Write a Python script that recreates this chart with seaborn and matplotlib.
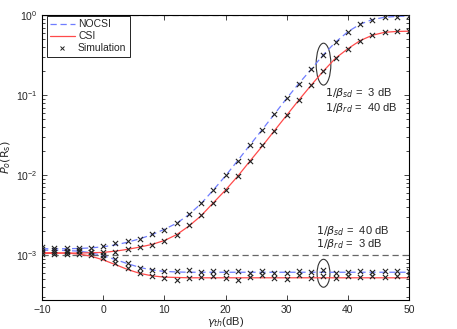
import numpy as np
import pandas as pd
import matplotlib
matplotlib.use("Agg")
import matplotlib.pyplot as plt
from matplotlib.lines import Line2D
from matplotlib.patches import Ellipse
import seaborn as sns

# gamma_th (dB) grid
gamma_db = list(range(-10, 51, 2))

# theory curves, 1/beta_sd = 3 dB, 1/beta_rd = 40 dB
nocsi_hi = [1.20e-3, 1.20e-3, 1.20e-3, 1.21e-3, 1.23e-3, 1.27e-3, 1.34e-3, 1.45e-3, 1.60e-3, 1.80e-3,
            2.10e-3, 2.50e-3, 3.20e-3, 4.40e-3, 6.50e-3, 9.80e-3, 0.0152, 0.0238, 0.037, 0.058,
            0.091, 0.14, 0.21, 0.32, 0.46, 0.62, 0.77, 0.88, 0.94, 0.965, 0.975]
csi_hi = [1.05e-3, 1.05e-3, 1.06e-3, 1.06e-3, 1.07e-3, 1.08e-3, 1.12e-3, 1.18e-3, 1.26e-3, 1.36e-3,
          1.52e-3, 1.80e-3, 2.30e-3, 3.10e-3, 4.50e-3, 6.50e-3, 9.7e-3, 0.015, 0.023, 0.036,
          0.056, 0.087, 0.133, 0.20, 0.29, 0.38, 0.48, 0.56, 0.61, 0.625, 0.63]

# theory curves, 1/beta_sd = 40 dB, 1/beta_rd = 3 dB
nocsi_lo = [1.15e-3, 1.15e-3, 1.14e-3, 1.12e-3, 1.07e-3, 9.8e-4, 8.8e-4, 7.8e-4, 7.0e-4, 6.5e-4,
            6.25e-4, 6.15e-4, 6.1e-4, 6.1e-4, 6.1e-4, 6.1e-4, 6.1e-4, 6.1e-4, 6.1e-4, 6.1e-4,
            6.1e-4, 6.1e-4, 6.1e-4, 6.1e-4, 6.1e-4, 6.1e-4, 6.1e-4, 6.1e-4, 6.1e-4, 6.1e-4, 6.1e-4]
csi_lo = [1.07e-3, 1.07e-3, 1.06e-3, 1.03e-3, 9.7e-4, 8.7e-4, 7.6e-4, 6.6e-4, 5.9e-4, 5.5e-4,
          5.3e-4, 5.25e-4, 5.2e-4, 5.2e-4, 5.2e-4, 5.2e-4, 5.2e-4, 5.2e-4, 5.2e-4, 5.2e-4,
          5.2e-4, 5.2e-4, 5.2e-4, 5.2e-4, 5.2e-4, 5.2e-4, 5.2e-4, 5.2e-4, 5.2e-4, 5.2e-4, 5.2e-4]

# simulation points
sim_nocsi_hi = [1.25e-3, 1.22e-3, 1.22e-3, 1.22e-3, 1.24e-3, 1.30e-3, 1.42e-3, 1.48e-3, 1.58e-3, 1.85e-3,
                2.08e-3, 2.50e-3, 3.25e-3, 4.5e-3, 6.6e-3, 0.0100, 0.0152, 0.0238, 0.037, 0.058,
                0.091, 0.138, 0.21, 0.32, 0.46, 0.62, 0.78, 0.88, 0.94, 0.96, 0.975]
sim_csi_hi = [1.10e-3, 1.08e-3, 1.10e-3, 1.12e-3, 1.08e-3, 1.10e-3, 1.10e-3, 1.20e-3, 1.28e-3, 1.32e-3,
              1.50e-3, 1.80e-3, 2.35e-3, 3.15e-3, 4.5e-3, 6.5e-3, 9.7e-3, 0.015, 0.0235, 0.036,
              0.056, 0.088, 0.133, 0.20, 0.29, 0.38, 0.48, 0.56, 0.61, 0.625, 0.63]
sim_nocsi_lo = [1.2e-3, 1.15e-3, 1.12e-3, 1.15e-3, 1.08e-3, 1.0e-3, 9.0e-4, 8.0e-4, 6.9e-4, 6.5e-4,
                6.3e-4, 6.4e-4, 6.6e-4, 6.2e-4, 6.3e-4, 6.1e-4, 6.4e-4, 6.0e-4, 6.4e-4, 5.9e-4,
                6.0e-4, 6.4e-4, 6.1e-4, 6.5e-4, 6.0e-4, 6.2e-4, 6.4e-4, 6.1e-4, 6.3e-4, 6.3e-4, 6.3e-4]
sim_csi_lo = [1.02e-3, 1.03e-3, 1.02e-3, 1.02e-3, 1.0e-3, 9.2e-4, 8.0e-4, 6.8e-4, 6.0e-4, 5.5e-4,
              5.2e-4, 4.9e-4, 5.2e-4, 5.3e-4, 5.4e-4, 5.2e-4, 4.9e-4, 5.3e-4, 5.6e-4, 5.2e-4,
              5.0e-4, 5.6e-4, 5.1e-4, 5.4e-4, 5.2e-4, 5.4e-4, 5.3e-4, 5.4e-4, 5.3e-4, 5.4e-4, 5.6e-4]

# asymptotes (gray dashed)
bound_x = [-10, 50]
bound_hi = [0.99, 0.99]
bound_lo = [1.01e-3, 1.01e-3]

sns.set_style("ticks")
plt.rcParams["font.family"] = ["Liberation Sans", "DejaVu Sans"]
plt.rcParams["mathtext.fontset"] = "dejavusans"

fig = plt.figure(figsize=(4.57, 3.29), dpi=100)
ax = fig.add_axes([0.092, 0.088, 0.803, 0.866])

blue = "#6f7dff"
red = "#ff4a4a"
gray = "#666666"

sns.lineplot(x=bound_x, y=bound_hi, ax=ax, color=gray, linestyle=(0, (5, 3)), linewidth=0.9)
sns.lineplot(x=bound_x, y=bound_lo, ax=ax, color=gray, linestyle=(0, (5, 3)), linewidth=0.9)

for vals in [nocsi_hi, nocsi_lo]:
    sns.lineplot(x=gamma_db, y=vals, ax=ax, color=blue, linestyle=(0, (5, 3)), linewidth=0.9)
for vals in [csi_hi, csi_lo]:
    sns.lineplot(x=gamma_db, y=vals, ax=ax, color=red, linewidth=0.9)

sims = pd.DataFrame({
    "gamma": gamma_db * 4,
    "p": sim_nocsi_hi + sim_csi_hi + sim_nocsi_lo + sim_csi_lo,
})
sns.scatterplot(data=sims, x="gamma", y="p", ax=ax, marker="x", color="#222222",
                s=14, linewidth=0.8, zorder=5)

ax.set_yscale("log")
ax.set_xlim(-10, 50)
ax.set_ylim(2.74e-4, 1.0)
ax.set_xticks(range(-10, 51, 10))
ax.tick_params(which="both", direction="in", top=True, right=True, labelsize=7.5, width=0.6)
ax.tick_params(which="major", length=3.5)
ax.tick_params(which="minor", length=2)
for sp in ax.spines.values():
    sp.set_linewidth(0.8)
    sp.set_color("black")

ax.set_xlabel(r"$\gamma_{th}$(dB)", fontsize=8, labelpad=0)
ax.set_ylabel(r"$P_o(\mathrm{R_s})$", fontsize=8, labelpad=2)

# ellipses marking the two groups
ax.add_patch(Ellipse((0.767, 0.828), 0.040, 0.147, transform=ax.transAxes,
                     fill=False, edgecolor="#333333", linewidth=0.8))
ax.add_patch(Ellipse((0.767, 0.094), 0.035, 0.098, transform=ax.transAxes,
                     fill=False, edgecolor="#333333", linewidth=0.8))

ax.text(0.772, 0.725, r"$1/\beta_{sd}$ =  3 dB", transform=ax.transAxes, fontsize=8, va="center")
ax.text(0.772, 0.675, r"$1/\beta_{rd}$ =  40 dB", transform=ax.transAxes, fontsize=8, va="center")
ax.text(0.747, 0.244, r"$1/\beta_{sd}$ =  40 dB", transform=ax.transAxes, fontsize=8, va="center")
ax.text(0.747, 0.196, r"$1/\beta_{rd}$ =  3 dB", transform=ax.transAxes, fontsize=8, va="center")

handles = [
    Line2D([], [], color=blue, linestyle=(0, (5, 3)), linewidth=0.9, label="NOCSI"),
    Line2D([], [], color=red, linewidth=0.9, label="CSI"),
    Line2D([], [], color="#222222", marker="x", linestyle="none", markersize=3.5,
           markeredgewidth=0.7, label="Simulation"),
]
leg = ax.legend(handles=handles, loc="upper left", bbox_to_anchor=(0.01, 1.0), fontsize=7.5,
                frameon=True, fancybox=False, framealpha=1, edgecolor="black",
                handlelength=2.4, handletextpad=0.3, borderpad=0.3, labelspacing=0.2,
                borderaxespad=0.1)
leg.get_frame().set_linewidth(0.6)

fig.savefig("out.png", dpi=100)
plt.close(fig)
